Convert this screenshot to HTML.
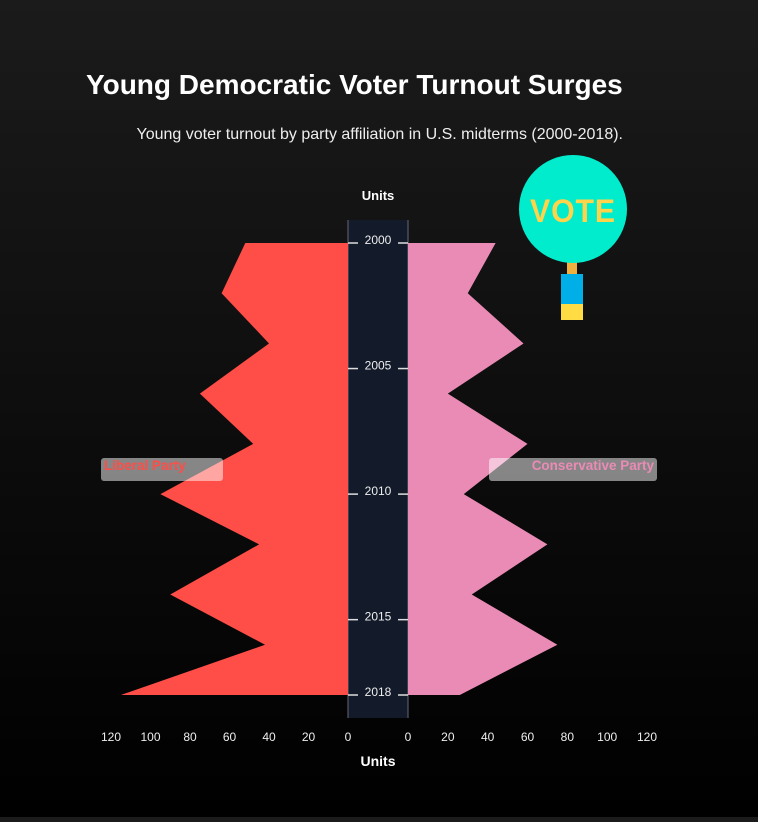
<!DOCTYPE html>
<html><head><meta charset="utf-8"><style>
body{margin:0;width:758px;height:817px;overflow:hidden;background:linear-gradient(#1b1b1b,#000);font-family:"Liberation Sans",sans-serif}
</style></head><body>
<svg width="758" height="817">
<text x="86" y="94" fill="#fff" font-size="28" font-weight="bold">Young Democratic Voter Turnout Surges</text>
<text x="623" y="139" fill="#eee" font-size="16" text-anchor="end">Young voter turnout by party affiliation in U.S. midterms (2000-2018).</text>
<text x="378" y="200" fill="#fff" font-size="13" font-weight="bold" text-anchor="middle">Units</text>
<text x="378" y="766" fill="#fff" font-size="14" font-weight="bold" text-anchor="middle">Units</text>
<rect x="348" y="220" width="60" height="498" fill="#131a2a"/>
<line x1="348" x2="348" y1="220" y2="718" stroke="#667" stroke-width="1"/>
<line x1="408" x2="408" y1="220" y2="718" stroke="#667" stroke-width="1"/>
<g id="g"></g>
<g>
<rect x="567" y="255" width="10" height="20" fill="#f0b040"/>
<rect x="561" y="274" width="22" height="30" fill="#00aee8"/>
<rect x="561" y="304" width="22" height="16" fill="#ffdc44"/>
<circle cx="573" cy="209" r="54" fill="#00eccc"/>
<text x="573" y="222" fill="#ffd34a" font-size="32" font-weight="bold" text-anchor="middle" letter-spacing="1" textLength="86" lengthAdjust="spacingAndGlyphs">VOTE</text>
</g>
<rect x="101" y="458" width="122" height="23" rx="3" fill="rgba(255,255,255,0.5)"/>
<text x="104" y="470" fill="#ff4d47" font-size="13.5" font-weight="bold">Liberal Party</text>
<rect x="489" y="458" width="168" height="23" rx="3" fill="rgba(255,255,255,0.5)"/>
<text x="654" y="470" fill="#ea8bb6" font-size="13.5" font-weight="bold" text-anchor="end">Conservative Party</text>
</svg>
<script>
const years=[2000,2002,2004,2006,2008,2010,2012,2014,2016,2018];
const liberal=[52,64,40,75,48,95,45,90,42,115];
const conservative=[44,30,58,20,60,28,70,32,75,26];
const xTicks=[0,20,40,60,80,100,120];
const yTicks=[2000,2005,2010,2015,2018];
const NS='http://www.w3.org/2000/svg',g=document.getElementById('g');
const y=v=>243+(v-2000)*(695-243)/18;
const xl=v=>348-v*(348-111)/120;
const xr=v=>408+v*(647-408)/120;
function mk(t,a){const e=document.createElementNS(NS,t);for(const k in a)e.setAttribute(k,a[k]);g.appendChild(e);return e;}
let p='M348,'+y(years[0]);years.forEach((yr,i)=>p+=' L'+xl(liberal[i])+','+y(yr));p+=' L348,'+y(years[years.length-1])+'Z';
const a=mk('path',{d:p,fill:'#ff4d47'});


p='M408,'+y(years[0]);years.forEach((yr,i)=>p+=' L'+xr(conservative[i])+','+y(yr));p+=' L408,'+y(years[years.length-1])+'Z';
const b=mk('path',{d:p,fill:'#ea8bb6'});


yTicks.forEach(t=>{
 mk('line',{x1:348,x2:358,y1:y(t),y2:y(t),stroke:'#ddd','stroke-width':1.5});
 mk('line',{x1:398,x2:408,y1:y(t),y2:y(t),stroke:'#ddd','stroke-width':1.5});
 const e=mk('text',{x:378,y:y(t)+1,fill:'#eee','font-size':12,'text-anchor':'middle'});e.textContent=t;
 
 
});
xTicks.forEach(t=>{
 const e=mk('text',{x:xl(t),y:741,fill:'#eee','font-size':12,'text-anchor':'middle'});e.textContent=t;
 
 
 const f=mk('text',{x:xr(t),y:741,fill:'#eee','font-size':12,'text-anchor':'middle'});f.textContent=t;
 
 
});
</script>
</body></html>
